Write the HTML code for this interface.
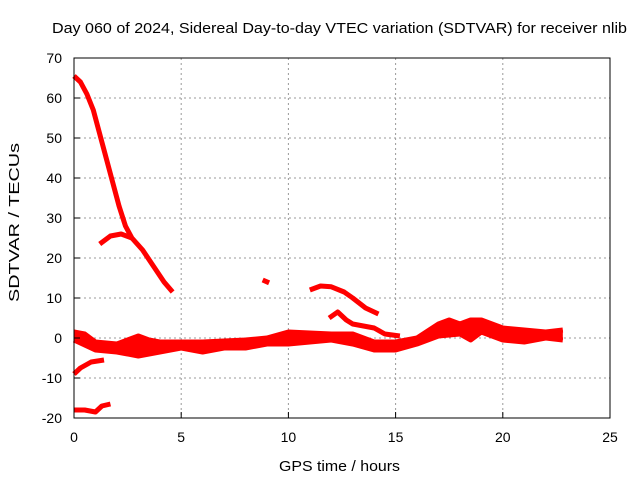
<!DOCTYPE html>
<html><head><meta charset="utf-8"><style>
body{margin:0;background:#fff;}
svg{display:block;font-family:"Liberation Sans",sans-serif;}
</style></head><body>
<svg id="chart" width="640" height="480" viewBox="0 0 640 480" xmlns="http://www.w3.org/2000/svg">
<text x="52" y="33" font-size="15" textLength="575" lengthAdjust="spacingAndGlyphs">Day 060 of 2024, Sidereal Day-to-day VTEC variation (SDTVAR) for receiver nlib</text>
<text x="279" y="471" font-size="15" textLength="121" lengthAdjust="spacingAndGlyphs">GPS time / hours</text>
<text transform="translate(19,302) rotate(-90)" font-size="15" textLength="159" lengthAdjust="spacingAndGlyphs">SDTVAR / TECUs</text>
<g id="grid"></g><g id="series"></g>
<rect x="74" y="58" width="536" height="360" fill="none" stroke="#000" stroke-width="1"/>
<g id="ticks"></g>
</svg>
<script>
const xTicks=[0,5,10,15,20,25];
const yTicks=[-20,-10,0,10,20,30,40,50,60,70];
const seriesSteep=[[0,65.5],[0.3,64],[0.6,61],[0.9,57],[1.2,51],[1.5,45],[1.8,39],[2.1,33],[2.4,28],[2.7,25],[3.2,22],[3.7,18],[4.2,14],[4.6,11.5]];
const seriesHump=[[1.2,23.5],[1.7,25.5],[2.2,26],[2.7,25]];
const seriesDot=[[8.8,14.5],[9.1,13.8]];
const seriesArc=[[11,12],[11.5,13],[12,12.8],[12.6,11.5],[13,10],[13.6,7.5],[14.2,6]];
const seriesArc2=[[11.9,5],[12.3,6.5],[12.7,4.5],[13,3.5],[14,2.5],[14.5,1],[15.2,0.5]];
const bandUpper=[[0,1.5],[0.5,1],[1,-1],[2,-1.5],[2.5,-0.5],[3,0.5],[3.5,-0.5],[4,-1],[6,-1],[8,-0.5],[9,0],[10,1.5],[12,1],[13,1],[14,-1],[15,-1],[16,0],[17,3.5],[17.5,4.5],[18,3.5],[18.5,4.5],[19,4.5],[20,2.5],[21,2],[22,1.5],[22.8,2]];
const bandLower=[[0,-0.5],[1,-3],[2,-3.5],[3,-4.5],[4,-3.5],[5,-2.5],[6,-3.5],[7,-2.5],[8,-2.5],[9,-1.5],[10,-1.5],[12,-0.5],[13,-1.5],[14,-3],[15,-3],[16,-1.5],[17,0.5],[18,1],[18.5,-0.5],[19,1.5],[20,-0.5],[21,-1],[22,0],[22.8,-0.5]];
const seriesLow=[[0,-9],[0.3,-7.5],[0.8,-6],[1.4,-5.5]];
const seriesBottom=[[0,-18],[0.5,-18],[1,-18.5],[1.3,-17],[1.7,-16.5]];
const NS="http://www.w3.org/2000/svg";
const X=h=>74+h*536/25, Y=v=>418-(v+20)*4;
const grid=document.getElementById('grid'), ticks=document.getElementById('ticks'), ser=document.getElementById('series');
function mk(t,a,p){const e=document.createElementNS(NS,t);for(const k in a)e.setAttribute(k,a[k]);p.appendChild(e);return e;}
xTicks.forEach(t=>{
 if(t>0&&t<25){const g=mk('line',{x1:X(t),x2:X(t),y1:58,y2:418,stroke:'#999','stroke-dasharray':'2,3'},grid);
 
 }
 const tk=mk('line',{x1:X(t),x2:X(t),y1:418,y2:412,stroke:'#000'},ticks);
 
 
 const l=mk('text',{x:X(t),y:442,'font-size':14,'text-anchor':'middle'},ticks);l.textContent=t;
 
 
});
yTicks.forEach(t=>{
 if(t>-20&&t<70){const g=mk('line',{x1:74,x2:610,y1:Y(t),y2:Y(t),stroke:'#999','stroke-dasharray':'2,3'},grid);
 
 }
 const tk=mk('line',{x1:74,x2:80,y1:Y(t),y2:Y(t),stroke:'#000'},ticks);
 
 
 const l=mk('text',{x:62,y:Y(t)+5,'font-size':14,'text-anchor':'end'},ticks);l.textContent=t;
 
 
});
function line(d,w,name){const p=mk('polyline',{points:d.map(q=>X(q[0])+','+Y(q[1])).join(' '),fill:'none',stroke:'#f00','stroke-width':w,'stroke-linejoin':'round'},ser);
 
 }
line(seriesSteep,5,'series-steep');
line(seriesHump,5,'series-hump');
line(seriesDot,5,'series-dot');
line(seriesArc,5,'series-arc');
line(seriesArc2,5,'series-arc-lower');
const bp=mk('polygon',{points:bandUpper.concat(bandLower.slice().reverse()).map(q=>X(q[0])+','+Y(q[1])).join(' '),fill:'#f00'},ser);


line(bandUpper,5,'band-upper');
line(bandLower,5,'band-lower');
line(seriesLow,5,'series-low');
line(seriesBottom,5,'series-bottom');
</script>
</body></html>
